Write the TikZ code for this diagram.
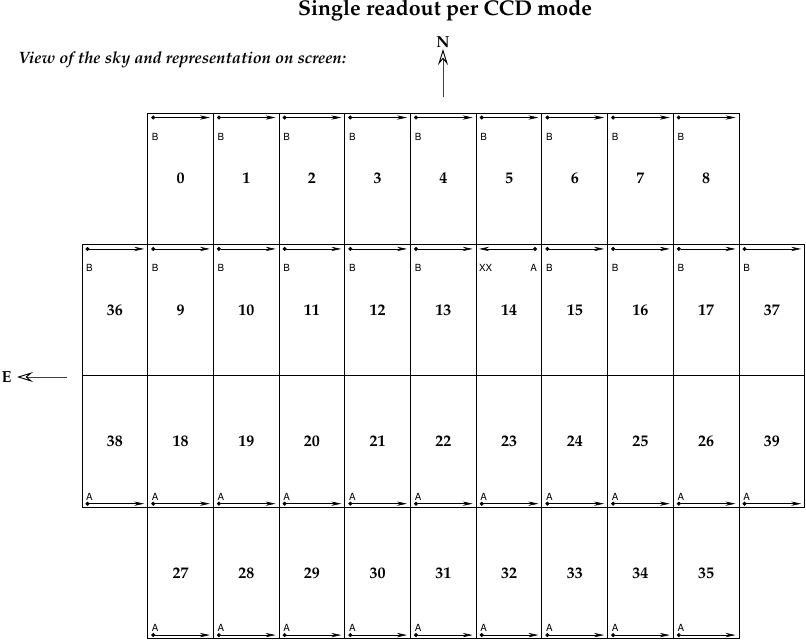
\documentclass[tikz,border=0pt]{standalone}
\usepackage[T1]{fontenc}
\usepackage{mathpazo}
\usepackage[scaled=0.92]{helvet}
\usetikzlibrary{arrows.meta}

\tikzset{
  ccd/.style={draw, line width=0.7pt, minimum width=49.3pt, minimum height=98.55pt, inner sep=0pt, font=\large\bfseries},
  readout/.style={line width=0.45pt, {Circle[length=3pt]}-{Stealth[length=7.5pt,width=3.2pt]}},
  amp/.style={font=\sffamily\fontsize{8}{9}\selectfont, inner sep=0pt},
  compass/.style={line width=0.7pt, draw=black!75, -{Stealth[open,length=12pt,width=7.5pt,inset=4.5pt,black]}},
  pole/.style={font=\large\bfseries, inner sep=1pt}
}

\begin{document}
\begin{tikzpicture}[x=0.75pt,y=-0.75pt]
\useasboundingbox (0,0) rectangle (806,640);
% Titles
\node[font=\fontsize{16}{19}\selectfont\bfseries] (title) at (445,11) {Single readout per CCD mode};
\node[anchor=west, font=\fontsize{12.3}{15}\selectfont\bfseries\itshape] (view) at (14,60) {View of the sky and representation on screen:};
% North and East
\node[pole] (N) at (443,42) {N};
\coordinate (Ntail) at (443,97);
\draw[compass] (Ntail) -- (N.south);
\node[pole, anchor=east] (E) at (13,377) {E};
\coordinate (Etail) at (67,377);
\draw[compass] (Etail) -- ([xshift=3pt]E.east);
% CCDs, row by row
\foreach \n in {0,...,8}
  \node[ccd] (c\n) at ({114.85+65.7*(\n+1)},178.7) {\n};
\node[ccd] (c36) at (114.85,310.1) {36};
\foreach \n in {9,...,17}
  \node[ccd] (c\n) at ({114.85+65.7*(\n-8)},310.1) {\n};
\node[ccd] (c37) at (771.85,310.1) {37};
\node[ccd] (c38) at (114.85,441.5) {38};
\foreach \n in {18,...,26}
  \node[ccd] (c\n) at ({114.85+65.7*(\n-17)},441.5) {\n};
\node[ccd] (c39) at (771.85,441.5) {39};
\foreach \n in {27,...,35}
  \node[ccd] (c\n) at ({114.85+65.7*(\n-26)},572.9) {\n};
% Readout direction, amplifier B
\foreach \n in {0,...,13,15,16,17,36,37} {
  \draw[readout] ([xshift=3pt,yshift=-3.75pt]c\n.north west) -- ([xshift=-3pt,yshift=-3.75pt]c\n.north east);
  \node[amp] (b\n) at ([xshift=6pt,yshift=-18pt]c\n.north west) {B};
}
% CCD 14 is read the other way
\draw[readout] ([xshift=-4pt,yshift=-3.75pt]c14.north east) -- ([xshift=2.5pt,yshift=-3.75pt]c14.north west);
\node[amp] (x14) at ([xshift=7.5pt,yshift=-18pt]c14.north west) {XX};
\node[amp] (a14) at ([xshift=-6.5pt,yshift=-18pt]c14.north east) {A};
% Readout direction, amplifier A
\foreach \n in {18,...,35,38,39} {
  \draw[readout] ([xshift=3pt,yshift=3pt]c\n.south west) -- ([xshift=-3pt,yshift=3pt]c\n.south east);
  \node[amp] (a\n) at ([xshift=6pt,yshift=8.25pt]c\n.south west) {A};
}
\end{tikzpicture}
\end{document}
